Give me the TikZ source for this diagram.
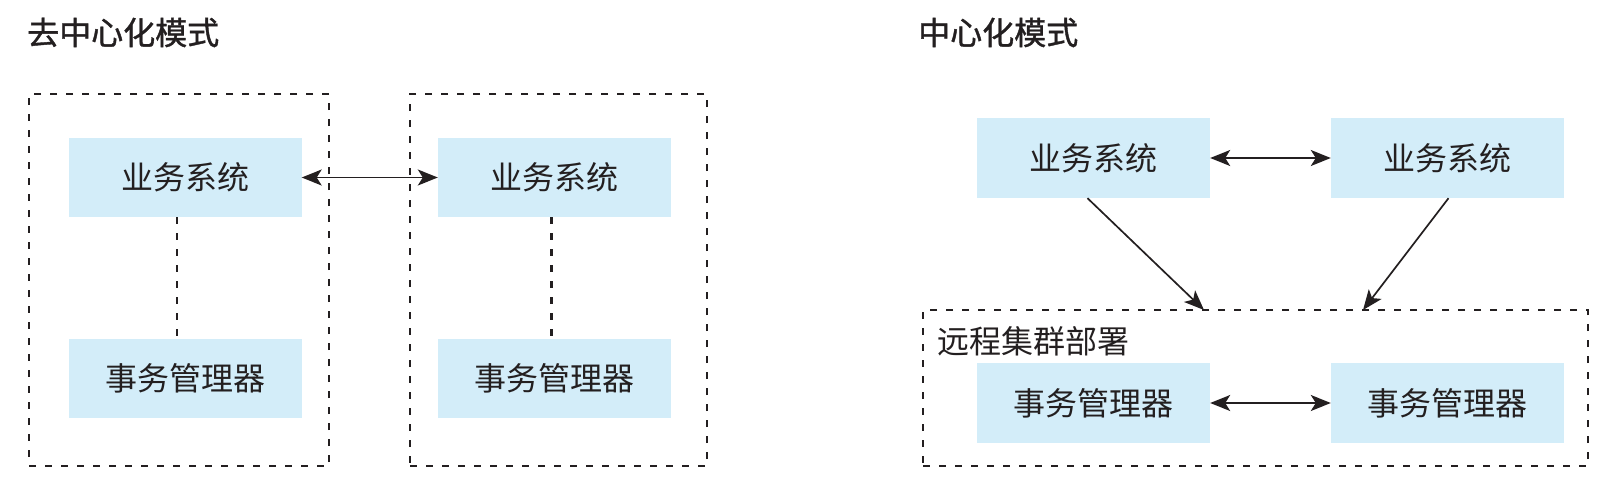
\documentclass[tikz,border=0pt]{standalone}
\usepackage{fontspec}
\newfontfamily\cjk{Noto Sans CJK SC}
\newfontfamily\cjkt[FakeBold=1.2]{Noto Sans CJK SC}
\usetikzlibrary{arrows.meta}
\definecolor{boxblue}{RGB}{211,237,249}
\definecolor{ink}{RGB}{35,31,32}
\begin{document}
\begin{tikzpicture}[x=1pt,y=-1pt,
  every node/.style={font=\cjk\fontsize{32}{36}\selectfont, inner sep=0pt, text=ink},
  ttl/.style={anchor=west, font=\cjkt\fontsize{32}{36}\selectfont},
  blk/.style={fill=boxblue, minimum width=233pt, minimum height=79pt},
  frame/.style={draw=ink, line width=2.2pt, dash pattern=on 7pt off 9pt},
  link/.style={draw=ink, line width=2.2pt, dash pattern=on 7pt off 9pt},
  twoway/.style={draw=ink, line width=1.7pt, {Stealth[length=20pt,width=16pt,inset=5pt]}-{Stealth[length=20pt,width=16pt,inset=5pt]}},
  oneway/.style={draw=ink, line width=1.7pt, -{Stealth[length=20pt,width=16pt,inset=5pt]}}
]
\useasboundingbox (0,0) rectangle (1619,485);

% ---------- left: decentralised ----------
\node[ttl] (t1) at (27,32.5) {去中心化模式};
\node[frame, minimum width=300pt, minimum height=372pt] (f1) at (179,280) {};
\node[frame, minimum width=297pt, minimum height=372pt] (f2) at (558.5,280) {};

\node[blk] (lt) at (185,177.5) {业务系统};
\node[blk] (lb) at (185,378.5) {事务管理器};
\node[blk] (rt) at (554.5,177.5) {业务系统};
\node[blk] (rb) at (554.5,378.5) {事务管理器};

\draw[link] ([xshift=-8pt]lt.south) -- ([xshift=-8pt]lb.north);
\draw[link] ([xshift=-3pt]rt.south) -- ([xshift=-3pt]rb.north);
\draw[twoway] (lt.east) -- (rt.west);

% ---------- right: centralised ----------
\node[ttl] (t2) at (918,32.5) {中心化模式};
\node[frame, minimum width=665pt, minimum height=156pt] (cl) at (1255.5,388) {};
\node[anchor=west] (cll) at (937,341) {远程集群部署};

\node[blk, minimum height=80pt] (tl) at (1093.5,158) {业务系统};
\node[blk, minimum height=80pt] (tr) at (1447.5,158) {业务系统};
\node[blk, minimum height=80pt] (bl) at (1093.5,403) {事务管理器};
\node[blk, minimum height=80pt] (br) at (1447.5,403) {事务管理器};

\coordinate (c1) at (1204,310);
\coordinate (c2) at (1363,310);

\draw[twoway] (tl.east) -- (tr.west);
\draw[twoway] (bl.east) -- (br.west);
\draw[oneway] ([xshift=-6pt]tl.south) -- (c1);
\draw[oneway] ([xshift=1pt]tr.south) -- (c2);
\end{tikzpicture}
\end{document}
